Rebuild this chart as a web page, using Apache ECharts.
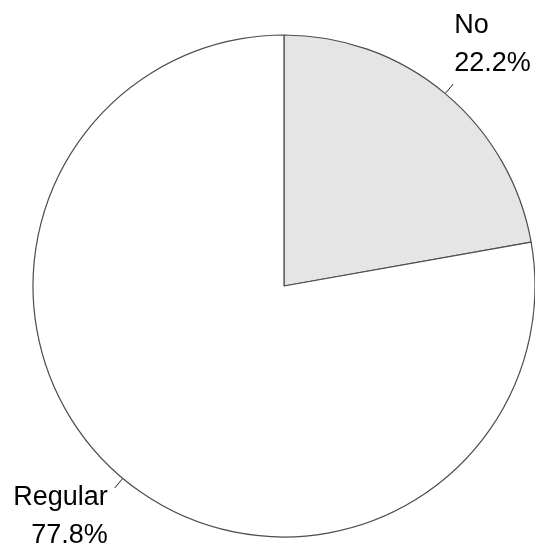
<!DOCTYPE html>
<html>
<head>
<meta charset="utf-8">
<script src="https://cdn.jsdelivr.net/npm/echarts@6/dist/echarts.min.js"></script>
<style>
  html, body { margin: 0; padding: 0; background: #fff; }
  #chart { width: 535px; height: 546px; }
</style>
</head>
<body>
<div id="chart"></div>
<script>
// slice data
const categories = ['No', 'Regular'];
const values = [22.2, 77.8];
const sliceColors = ['#e5e5e5', '#ffffff'];
// shift of each label block
const labelShiftX = [-2, -4];
const labelShiftY = [-39, 29];

document.addEventListener('DOMContentLoaded', function() {
    const chart = echarts.init(document.getElementById('chart'));

    const data = categories.map(function(name, i) {
        return {
            name: name,
            value: values[i],
            itemStyle: { color: sliceColors[i] }
        };
    });

    chart.setOption({
        animation: false,
        series: [{
            type: 'pie',
            center: [284, 286],
            radius: 251,
            startAngle: 90,
            clockwise: true,
            avoidLabelOverlap: false,
            silent: true,
            itemStyle: {
                borderColor: '#4d4d4d',
                borderWidth: 1.2
            },
            label: {
                show: true,
                position: 'outside',
                formatter: function(p) {
                    return p.name + '\n' + p.value.toFixed(1) + '%';
                },
                fontFamily: 'Liberation Sans, Arial, sans-serif',
                fontSize: 27,
                lineHeight: 38,
                color: '#000',
                distanceToLabelLine: 3
            },
            labelLine: {
                show: true,
                length: 12.5,
                length2: 0,
                lineStyle: { color: '#222', width: 1 }
            },
            labelLayout: function(params) {
                return {
                    dx: labelShiftX[params.dataIndex],
                    dy: labelShiftY[params.dataIndex],
                    labelLinePoints: params.labelLinePoints
                };
            },
            emphasis: { disabled: true },
            data: data
        }]
    });

    window.addEventListener('resize', function() {
        chart.resize();
    });
});
</script>
</body>
</html>
